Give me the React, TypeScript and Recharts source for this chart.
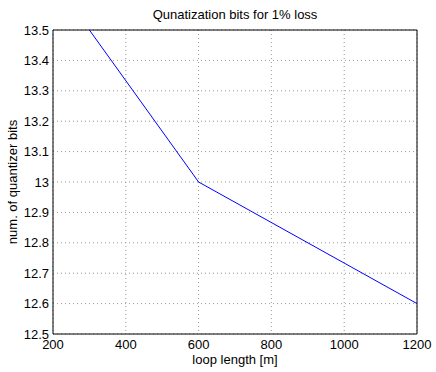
import { LineChart, Line, XAxis, YAxis, CartesianGrid, ReferenceLine } from 'recharts';

const loopLength = [300, 600, 1200];
const quantBits = [13.5, 13.0, 12.6];
const xTicks = [200, 400, 600, 800, 1000, 1200];
const yTicks = [12.5, 12.6, 12.7, 12.8, 12.9, 13, 13.1, 13.2, 13.3, 13.4, 13.5];

const data = loopLength.map((x, i) => ({ x, y: quantBits[i] }));

const FONT = 'Liberation Sans, Arial, Helvetica, sans-serif';
const tickStyle = { fontSize: 13, fill: '#000', fontFamily: FONT };

export default function App() {
  return (
    <div style={{ position: 'absolute', left: 0, top: 0, width: 436, height: 372, background: '#fff' }}>
      <LineChart width={436} height={372} data={data} margin={{ top: 30, right: 19, left: 0, bottom: 0 }}>
        <CartesianGrid stroke="#999" strokeDasharray="1 3" />
        <XAxis
          dataKey="x"
          type="number"
          domain={[200, 1200]}
          ticks={xTicks}
          allowDataOverflow
          height={38}
          tick={tickStyle}
          tickLine={false}
          tickMargin={0}
          stroke="#000"
          label={{ value: 'loop length [m]', position: 'insideBottom', offset: 8, style: { ...tickStyle, textAnchor: 'middle' } }}
        />
        <YAxis
          type="number"
          domain={[12.5, 13.5]}
          ticks={yTicks}
          allowDataOverflow
          width={53}
          tick={tickStyle}
          tickLine={false}
          tickSize={0}
          tickMargin={4}
          tickFormatter={(v: number) => String(v)}
          stroke="#000"
          label={{ value: 'num. of quantizer bits', angle: -90, position: 'insideLeft', offset: 12, style: { ...tickStyle, textAnchor: 'middle' } }}
        />
        <ReferenceLine x={1200} stroke="#000" />
        <ReferenceLine y={13.5} stroke="#000" />
        <Line dataKey="y" stroke="#0000ff" strokeWidth={1} dot={false} isAnimationActive={false} />
        <text x={235} y={19} textAnchor="middle" style={tickStyle}>Qunatization bits for 1% loss</text>
      </LineChart>
    </div>
  );
}
